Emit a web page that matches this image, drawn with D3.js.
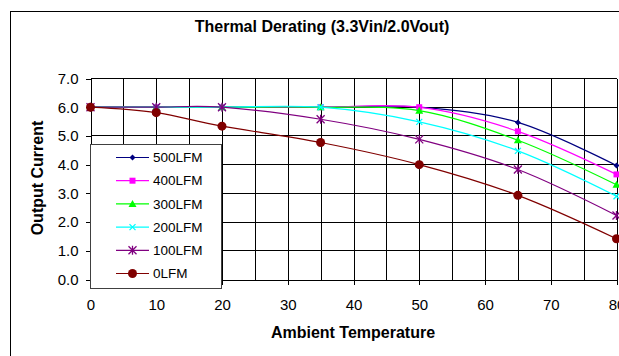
<!DOCTYPE html>
<html lang="en">
<head>
    <meta charset="UTF-8">
    <title>Thermal Derating</title>
    <style>
        body { margin: 0; background: #fff; }
        svg { display: block; font-family: "Liberation Sans", Arial, sans-serif; }
        .grid line { stroke: #000; stroke-width: 1px; shape-rendering: crispEdges; }
        .axis path, .axis line { stroke: #000; shape-rendering: crispEdges; }
        .axis text { font-size: 15px; fill: #000; }
        .title { font-size: 16px; font-weight: bold; }
        .legend text { font-size: 13.5px; }
    </style>
    <script src="https://d3js.org/d3.v7.min.js"></script>
</head>
<body>
    <script>

        // data
        const temps = [0, 10, 20, 35, 50, 65, 80];
        const lfm500 = [6.0, 6.0, 6.0, 6.0, 6.0, 5.47, 3.97];
        const lfm400 = [6.0, 6.0, 6.0, 6.0, 6.0, 5.16, 3.66];
        const lfm300 = [6.0, 6.0, 6.0, 6.0, 5.88, 4.85, 3.30];
        const lfm200 = [6.0, 6.0, 6.0, 6.0, 5.49, 4.48, 2.90];
        const lfm100 = [6.0, 6.0, 6.0, 5.58, 4.88, 3.83, 2.23];
        const lfm0 = [6.0, 5.81, 5.34, 4.77, 4.0, 2.93, 1.42];
        const seriesNames = ["500LFM", "400LFM", "300LFM", "200LFM", "100LFM", "0LFM"];
        const xTicks = [0, 10, 20, 30, 40, 50, 60, 70, 80];
        const yTicks = [0, 1, 2, 3, 4, 5, 6, 7];

        const series = [
            { name: seriesNames[0], values: lfm500, color: "#000080", marker: "diamond" },
            { name: seriesNames[1], values: lfm400, color: "#ff00ff", marker: "square" },
            { name: seriesNames[2], values: lfm300, color: "#00ff00", marker: "triangle" },
            { name: seriesNames[3], values: lfm200, color: "#00ffff", marker: "x" },
            { name: seriesNames[4], values: lfm100, color: "#800080", marker: "star" },
            { name: seriesNames[5], values: lfm0, color: "#800000", marker: "circle" }
        ];

        const width = 619, height = 356;
        const svg = d3.select("body").append("svg")
            .attr("width", width)
            .attr("height", height);

        // outer chart border (runs off the right/bottom edge)
        svg.append("rect")
            .attr("x", 10.5).attr("y", 11.5)
            .attr("width", 700).attr("height", 400)
            .attr("fill", "#fff").attr("stroke", "#000");

        const x = d3.scaleLinear().domain([0, 80]).range([90.5, 616.5]);
        const y = d3.scaleLinear().domain([0, 7]).range([279.5, 78.5]);

        // grid
        const grid = svg.append("g").attr("class", "grid");
        grid.selectAll(".v")
            .data(d3.range(5, 81, 5))
            .enter().append("line")
            .attr("x1", d => Math.round(x(d)) + 0.5).attr("x2", d => Math.round(x(d)) + 0.5)
            .attr("y1", y(7)).attr("y2", y(0));
        grid.selectAll(".h")
            .data(yTicks.slice(1))
            .enter().append("line")
            .attr("x1", x(0)).attr("x2", x(80))
            .attr("y1", d => y(d)).attr("y2", d => y(d));

        // axes
        svg.append("g")
            .attr("class", "axis")
            .attr("transform", `translate(${x(0)},0)`)
            .call(d3.axisLeft(y).tickValues(yTicks).tickSize(5).tickSizeOuter(0)
                .tickPadding(7).tickFormat(d3.format(".1f")));

        svg.append("g")
            .attr("class", "axis")
            .attr("transform", `translate(0,${y(0)})`)
            .call(d3.axisBottom(x).tickValues(xTicks).tickSize(5).tickSizeOuter(0)
                .tickPadding(15).tickFormat(d3.format("d")));

        // legend box sits over the grid and axis
        const legend = svg.append("g").attr("class", "legend");
        legend.append("rect")
            .attr("x", 90.5).attr("y", 144.5)
            .attr("width", 131).attr("height", 144)
            .attr("fill", "#fff").attr("stroke", "#404040");

        // marker shapes
        function markerPath(type) {
            switch (type) {
                case "diamond": return "M0,-3L3,0L0,3L-3,0Z";
                case "square": return "M-3,-3H3V3H-3Z";
                case "triangle": return "M0,-4L4,3L-4,3Z";
                case "x": return "M-3,-3L3,3M-3,3L3,-3";
                case "star": return "M-4,-4L4,4M-4,4L4,-4M0,-4.5V4.5";
                default: return null;
            }
        }
        function drawMarker(g, type, color) {
            if (type === "circle") {
                g.append("circle").attr("r", 4.5).attr("fill", color);
            } else if (type === "x" || type === "star") {
                g.append("path").attr("d", markerPath(type))
                    .attr("fill", "none").attr("stroke", color).attr("stroke-width", 1.3);
            } else {
                g.append("path").attr("d", markerPath(type)).attr("fill", color);
            }
        }

        const line = d3.line()
            .x(d => x(d[0]))
            .y(d => y(d[1]))
            .curve(d3.curveCatmullRom.alpha(0));

        series.forEach(s => {
            const pts = temps.map((t, i) => [t, s.values[i]]);
            const g = svg.append("g");
            g.append("path")
                .attr("d", line(pts))
                .attr("fill", "none")
                .attr("stroke", s.color)
                .attr("stroke-width", 1.2);
            pts.forEach(p => {
                const m = g.append("g").attr("transform", `translate(${x(p[0])},${y(p[1])})`);
                drawMarker(m, s.marker, s.color);
            });
        });

        // legend entries
        series.forEach((s, i) => {
            const ly = 157.5 + i * 23.2;
            const row = legend.append("g");
            row.append("line")
                .attr("x1", 116).attr("x2", 149)
                .attr("y1", ly).attr("y2", ly)
                .attr("stroke", s.color).attr("stroke-width", 1.2);
            const m = row.append("g").attr("transform", `translate(132.5,${ly})`);
            drawMarker(m, s.marker, s.color);
            row.append("text")
                .attr("x", 153).attr("y", ly)
                .attr("dy", "0.35em")
                .text(s.name);
        });

        // titles
        svg.append("text")
            .attr("class", "title")
            .attr("x", 322).attr("y", 31.5)
            .attr("text-anchor", "middle")
            .text("Thermal Derating (3.3Vin/2.0Vout)");

        svg.append("text")
            .attr("class", "title")
            .attr("x", 353).attr("y", 338)
            .attr("text-anchor", "middle")
            .text("Ambient Temperature");

        svg.append("text")
            .attr("class", "title")
            .attr("transform", "translate(37,178) rotate(-90)")
            .attr("text-anchor", "middle")
            .attr("dy", "0.35em")
            .text("Output Current");

    </script>
</body>
</html>
